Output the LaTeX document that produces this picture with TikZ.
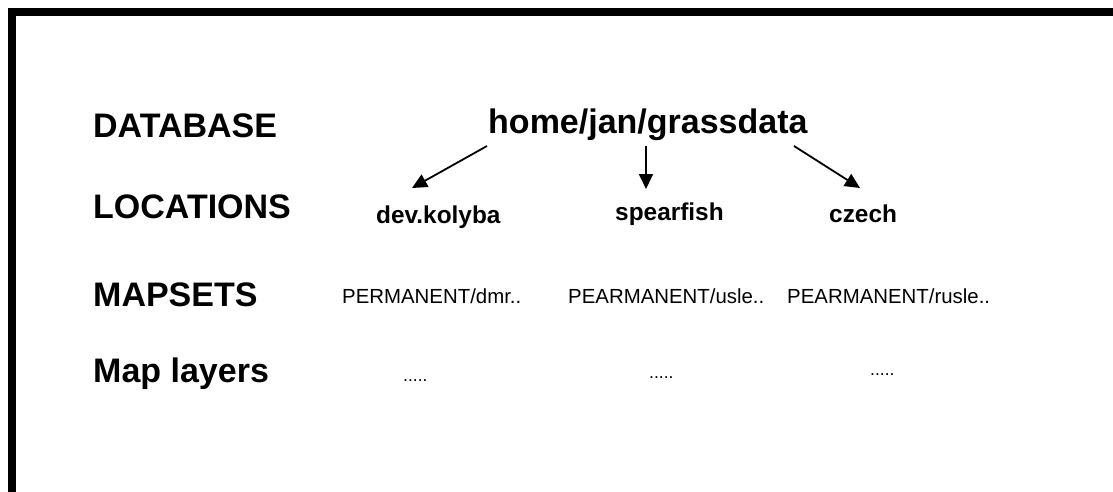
\documentclass[tikz,border=0pt]{standalone}
\usepackage{fontspec}
\setmainfont{Liberation Sans}
\usetikzlibrary{arrows.meta}
\tikzset{
  big/.style={inner sep=0pt, anchor=base west, font=\fontsize{34}{40}\selectfont\bfseries},
  mid/.style={inner sep=0pt, anchor=base west, font=\fontsize{24.4}{28}\selectfont\bfseries},
  small/.style={inner sep=0pt, anchor=base west, font=\fontsize{20.4}{24}\selectfont},
  dots/.style={inner sep=0pt, anchor=base west, font=\fontsize{17.5}{20}\selectfont},
  arr/.style={line width=1.8pt, -{Triangle[length=15pt,width=14pt]}},
  bar/.style={fill=black, draw=none}
}
\begin{document}
\begin{tikzpicture}[x=1pt,y=-1pt]
\useasboundingbox (0,0) rectangle (1113,492);
\fill[white] (0,0) rectangle (1113,492);
% frame bars
\path[bar] (8,8) rectangle (1113,16);
\path[bar] (8,8) rectangle (16,492);
% row labels
\node[big] (db) at (93,137) {DATABASE};
\node[big] (loc) at (93,218) {LOCATIONS};
\node[big] (ms) at (93,306) {MAPSETS};
\node[big] (ml) at (93,382) {Map layers};
% tree
\node[big] (home) at (488,134) {home/jan/grassdata};
\node[mid] (dev) at (376,223) {dev.kolyba};
\node[mid] (spf) at (615,220) {spearfish};
\node[mid] (cz) at (829,222) {czech};
\node[small] (m1) at (342,303) {PERMANENT/dmr..};
\node[small] (m2) at (568,303) {PEARMANENT/usle..};
\node[small] (m3) at (787,303) {PEARMANENT/rusle..};
\node[dots] (d1) at (403,381) {.....};
\node[dots] (d2) at (649,378) {.....};
\node[dots] (d3) at (870,375) {.....};
% arrow ends
\coordinate (a1s) at (487,146);
\coordinate (a1e) at (412,188);
\coordinate (a2s) at (646,146);
\coordinate (a2e) at (646,189);
\coordinate (a3s) at (794,146);
\coordinate (a3e) at (860,188);
\draw[arr] (a1s) -- (a1e);
\draw[arr] (a2s) -- (a2e);
\draw[arr] (a3s) -- (a3e);
\end{tikzpicture}
\end{document}
